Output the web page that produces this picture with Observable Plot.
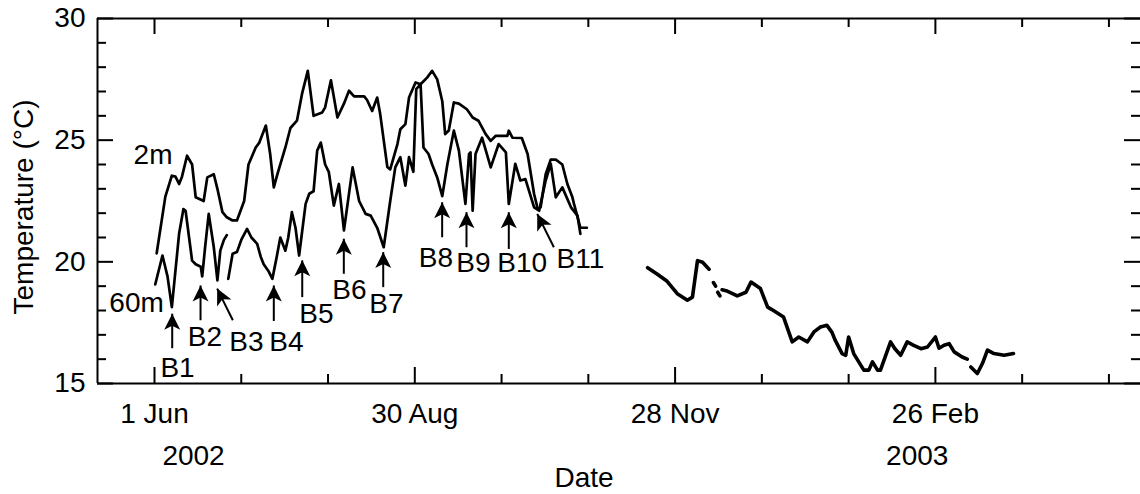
<!DOCTYPE html>
<html>
<head>
<meta charset="utf-8">
<script src="https://cdn.jsdelivr.net/npm/d3@7"></script>
<script src="https://cdn.jsdelivr.net/npm/@observablehq/plot@0.6"></script>
<style>
  html, body { margin: 0; padding: 0; background: #fff; }
  #chart svg { display: block; }
</style>
</head>
<body>
<div id="chart"></div>
<script>
// ---------- data ----------
const dates2m = ["2002-06-01 18","2002-06-04 18","2002-06-07 00","2002-06-08 06","2002-06-09 12","2002-06-10 12","2002-06-12 06","2002-06-14 00","2002-06-15 06","2002-06-18 00","2002-06-19 06","2002-06-21 12","2002-06-22 18","2002-06-24 12","2002-06-26 00","2002-06-28 00","2002-06-29 12","2002-07-02 00","2002-07-03 12","2002-07-06 00","2002-07-07 06","2002-07-09 12","2002-07-11 00","2002-07-12 06","2002-07-13 12","2002-07-16 06","2002-07-18 00","2002-07-20 06","2002-07-22 00","2002-07-24 00","2002-07-26 00","2002-07-29 00","2002-07-30 00","2002-08-01 00","2002-08-03 06","2002-08-05 12","2002-08-07 06","2002-08-09 00","2002-08-12 12","2002-08-13 12","2002-08-15 06","2002-08-17 00","2002-08-18 00","2002-08-20 12","2002-08-21 12","2002-08-24 00","2002-08-25 00","2002-08-26 18","2002-08-28 00","2002-08-30 06","2002-09-01 00","2002-09-03 06","2002-09-05 00","2002-09-06 18","2002-09-08 12","2002-09-09 12","2002-09-10 18","2002-09-12 12","2002-09-14 06","2002-09-17 00","2002-09-19 00","2002-09-21 00","2002-09-23 12","2002-09-25 06","2002-09-27 00","2002-10-01 00","2002-10-01 12","2002-10-02 18","2002-10-06 00","2002-10-08 00","2002-10-10 06","2002-10-11 12","2002-10-12 12","2002-10-14 06","2002-10-16 00","2002-10-17 18","2002-10-20 00","2002-10-21 18","2002-10-23 12","2002-10-24 00","2002-10-26 06","2002-10-28 12"];
const temps2m = [20.35,22.68,23.54,23.5,23.2,23.5,24.36,24.0,22.65,22.5,23.47,23.6,23.0,22.04,21.83,21.7,21.7,22.5,24.0,24.7,24.9,25.6,24.43,23.06,23.6,24.7,25.5,25.8,26.9,27.85,26.0,26.14,26.35,27.46,25.93,26.5,27.03,26.8,26.8,26.65,26.2,26.75,26.1,23.9,23.8,24.84,25.45,25.66,26.75,27.37,27.3,27.57,27.85,27.5,26.6,25.25,25.4,26.55,26.5,26.27,25.93,25.8,25.25,24.97,25.18,25.18,25.39,25.1,25.09,24.43,22.79,22.17,22.24,23.6,24.2,24.2,24.0,23.2,22.65,22.4,21.4,21.4];

const dates60m = ["2002-06-01 06","2002-06-03 18","2002-06-05 12","2002-06-07 00","2002-06-09 12","2002-06-11 00","2002-06-11 18","2002-06-14 00","2002-06-15 06","2002-06-17 00","2002-06-17 12","2002-06-18 12","2002-06-19 18","2002-06-21 12","2002-06-22 18","2002-06-23 18","2002-06-25 00","2002-06-26 00","2002-06-26 06","2002-06-26 12","2002-06-28 00","2002-06-29 12","2002-07-01 00","2002-07-03 00","2002-07-04 12","2002-07-06 12","2002-07-07 18","2002-07-08 18","2002-07-10 12","2002-07-11 18","2002-07-13 06","2002-07-14 12","2002-07-16 06","2002-07-17 06","2002-07-18 12","2002-07-19 18","2002-07-21 00","2002-07-23 06","2002-07-24 12","2002-07-26 00","2002-07-27 06","2002-07-28 12","2002-07-30 00","2002-07-31 06","2002-08-02 00","2002-08-03 18","2002-08-05 12","2002-08-08 12","2002-08-10 18","2002-08-13 00","2002-08-14 18","2002-08-17 00","2002-08-19 06","2002-08-21 12","2002-08-23 06","2002-08-25 00","2002-08-26 18","2002-08-28 00","2002-08-29 12","2002-08-30 12","2002-09-01 00","2002-09-02 00","2002-09-03 18","2002-09-05 00","2002-09-06 18","2002-09-08 12","2002-09-10 06","2002-09-12 12","2002-09-14 06","2002-09-16 12","2002-09-17 18","2002-09-18 06","2002-09-19 00","2002-09-20 00","2002-09-22 06","2002-09-23 12","2002-09-25 06","2002-09-28 00","2002-09-30 12","2002-10-01 12","2002-10-03 18","2002-10-05 12","2002-10-07 06","2002-10-10 06","2002-10-12 00","2002-10-14 06","2002-10-16 00","2002-10-17 18","2002-10-20 00","2002-10-23 00","2002-10-25 06","2002-10-26 06"];
const temps60m = [19.07,20.26,19.4,18.14,21.15,22.17,22.1,20.05,19.9,19.8,19.4,20.6,21.97,20.6,19.24,20.46,20.9,21.1,null,19.3,20.33,20.4,20.9,21.35,21.0,20.74,20.2,19.9,19.6,19.3,20.2,21.0,20.46,21.0,22.04,21.4,20.26,22.38,22.8,22.9,24.57,24.9,24.0,23.7,22.31,23.2,21.29,23.88,22.5,21.97,21.9,21.4,20.6,22.5,23.88,24.3,23.13,24.3,23.7,27.1,27.3,24.7,24.43,24.0,23.47,22.7,24.0,25.39,24.57,22.38,24.43,24.5,22.1,24.43,25.1,24.6,23.88,24.84,24.5,22.38,24.03,23.34,23.4,22.24,22.1,23.34,24.03,22.65,23.06,22.24,21.9,21.15];

const datesWinter = ["2002-11-18 12","2002-11-21 18","2002-11-25 06","2002-11-28 18","2002-12-02 06","2002-12-04 00","2002-12-05 18","2002-12-07 12","2002-12-09 18","2002-12-10 12","2002-12-11 06","2002-12-12 00","2002-12-12 12","2002-12-12 18","2002-12-13 12","2002-12-13 18","2002-12-14 06","2002-12-16 00","2002-12-19 12","2002-12-22 12","2002-12-24 06","2002-12-27 12","2002-12-30 00","2003-01-01 00","2003-01-04 12","2003-01-07 12","2003-01-09 18","2003-01-12 18","2003-01-15 00","2003-01-17 06","2003-01-19 12","2003-01-21 06","2003-01-22 06","2003-01-24 18","2003-01-26 00","2003-01-27 00","2003-01-28 18","2003-02-01 06","2003-02-03 00","2003-02-04 06","2003-02-06 00","2003-02-07 00","2003-02-10 12","2003-02-12 00","2003-02-14 00","2003-02-16 06","2003-02-18 12","2003-02-21 00","2003-02-23 06","2003-02-26 00","2003-02-27 06","2003-03-01 00","2003-03-02 18","2003-03-04 12","2003-03-07 06","2003-03-09 00","2003-03-09 12","2003-03-10 06","2003-03-12 12","2003-03-14 06","2003-03-16 00","2003-03-18 06","2003-03-21 18","2003-03-25 00"];
const tempsWinter = [19.76,19.5,19.2,18.69,18.42,18.55,20.05,19.98,19.7,null,19.15,19.0,null,18.75,18.6,null,18.85,18.8,18.6,18.75,19.17,18.9,18.14,18.0,17.73,16.71,16.91,16.71,17.12,17.32,17.39,17.1,16.8,16.23,16.16,16.91,16.23,15.55,15.55,15.89,15.55,15.55,16.71,16.43,16.16,16.71,16.57,16.43,16.5,16.91,16.45,16.57,16.64,16.3,16.09,16.0,null,15.68,15.41,15.82,16.37,16.23,16.16,16.23];

// event markers B1..B11
const eventLabels = ["B1","B2","B3","B4","B5","B6","B7","B8","B9","B10","B11"];
const eventTailDates = ["2002-06-07 03","2002-06-16 22","2002-06-28 02","2002-07-12 06","2002-07-22 02","2002-08-05 11","2002-08-19 02","2002-09-08 11","2002-09-16 21","2002-10-01 12","2002-10-17 02"];
const eventTailTemps = [16.45,17.6,17.6,17.57,18.55,19.51,18.96,21.01,20.6,20.53,20.6];
const eventTipDates  = ["2002-06-07 03","2002-06-16 22","2002-06-22 16","2002-07-12 06","2002-07-22 02","2002-08-05 11","2002-08-19 02","2002-09-08 11","2002-09-16 21","2002-10-01 12","2002-10-11 08"];
const eventTipTemps  = [17.87,19.03,18.9,19.03,20.06,20.95,20.4,22.45,22.04,22.04,21.97];
const eventTextDates = ["2002-06-08 23","2002-06-18 11","2002-07-02 19","2002-07-16 15","2002-07-27 00","2002-08-07 10","2002-08-20 05","2002-09-06 07","2002-09-19 07","2002-10-06 03","2002-10-26 07"];
const eventTextTemps = [15.65,16.9,16.7,16.7,17.84,18.83,18.25,20.16,19.95,19.95,20.1];

// series labels
const seriesNames = ["2m","60m"];
const seriesLabelDates = ["2002-05-31 12","2002-05-25 19"];
const seriesLabelTemps = [24.37,18.31];

// axes
const xDomain = ["2002-05-12 07","2003-05-07 22"];
const yDomain = [15, 30];
const xMajorTicks = ["2002-06-01 00","2002-08-30 00","2002-11-28 00","2003-02-26 00"];
const xMajorTickLabels = ["1 Jun","30 Aug","28 Nov","26 Feb"];
const xMinorTicks = ["2002-07-01 00","2002-07-31 00","2002-09-29 00","2002-10-29 00","2002-12-28 00","2003-01-27 00","2003-03-28 00","2003-04-27 00"];
const yMajorTicks = [15,20,25,30];
const yMinorTicks = [16,17,18,19,21,22,23,24,26,27,28,29];
const yearLabels = ["2002","2003"];
const yearLabelDates = ["2002-06-14 12","2003-02-19 17"];
const xTitle = "Date";
const yTitle = "Temperature (°C)";

// ---------- build ----------
const parse = d3.utcParse("%Y-%m-%d %H");
const toRows = (ds, ts) => ds.map((d, i) => ({date: parse(d), t: ts[i] == null ? NaN : ts[i]}));
const rows2m = toRows(dates2m, temps2m);
const rows60m = toRows(dates60m, temps60m);
const rowsWinter = toRows(datesWinter, tempsWinter);
const events = eventLabels.map((l, i) => ({
  label: l,
  x1: parse(eventTailDates[i]), y1: eventTailTemps[i],
  x2: parse(eventTipDates[i]), y2: eventTipTemps[i],
  tx: parse(eventTextDates[i]), ty: eventTextTemps[i]
}));
const seriesLabels = seriesNames.map((n, i) => ({name: n, x: parse(seriesLabelDates[i]), y: seriesLabelTemps[i]}));
const majX = xMajorTicks.map(parse);
const minX = xMinorTicks.map(parse);
const years = yearLabels.map((y, i) => ({text: y, x: parse(yearLabelDates[i])}));

const W = 1140, H = 494, mL = 97, mR = 0, mT = 18, mB = 111;
const fw = W - mL - mR, fh = H - mT - mB;
const FS = 28;
const font = "'Liberation Sans', Arial, Helvetica, sans-serif";

const headSymbol = {
  draw(ctx) {
    ctx.moveTo(0, 0);
    ctx.lineTo(8, 16);
    ctx.lineTo(0, 12);
    ctx.lineTo(-8, 16);
    ctx.closePath();
  }
};

function build(angles) {
  return Plot.plot({
    width: W, height: H,
    marginLeft: mL, marginRight: mR, marginTop: mT, marginBottom: mB,
    style: {fontFamily: font, fontSize: FS + "px", color: "black", background: "white"},
    x: {type: "utc", domain: xDomain.map(parse), axis: null},
    y: {domain: yDomain, axis: null},
    marks: [
      // frame (left, top, bottom)
      Plot.ruleY(yDomain, {stroke: "black", strokeWidth: 2}),
      Plot.ruleX([parse(xDomain[0])], {stroke: "black", strokeWidth: 2}),
      // inward ticks, bottom & top
      Plot.ruleX(majX, {stroke: "black", strokeWidth: 2, insetTop: fh - 16}),
      Plot.ruleX(minX, {stroke: "black", strokeWidth: 2, insetTop: fh - 9}),
      Plot.ruleX(majX, {stroke: "black", strokeWidth: 2, insetBottom: fh - 16}),
      Plot.ruleX(minX, {stroke: "black", strokeWidth: 2, insetBottom: fh - 9}),
      // inward ticks, left & right
      Plot.ruleY(yMajorTicks, {stroke: "black", strokeWidth: 2, insetRight: fw - 16}),
      Plot.ruleY(yMinorTicks, {stroke: "black", strokeWidth: 2, insetRight: fw - 9}),
      Plot.ruleY(yMajorTicks, {stroke: "black", strokeWidth: 2, insetLeft: fw - 16}),
      Plot.ruleY(yMinorTicks, {stroke: "black", strokeWidth: 2, insetLeft: fw - 9}),
      // tick labels
      Plot.text(yMajorTicks, {y: d => d, text: d => String(d), frameAnchor: "left", textAnchor: "end", dx: -12, fontSize: FS, fill: "black"}),
      Plot.text(majX, {x: d => d, text: (d, i) => xMajorTickLabels[i], frameAnchor: "bottom", lineAnchor: "top", dy: 20, fontSize: FS, fill: "black"}),
      Plot.text(years, {x: "x", text: "text", frameAnchor: "bottom", lineAnchor: "top", dy: 62, fontSize: FS, fill: "black"}),
      Plot.text([xTitle], {text: d => d, frameAnchor: "bottom", lineAnchor: "top", dy: 84, dx: -35, fontSize: FS, fill: "black"}),
      Plot.text([yTitle], {text: d => d, frameAnchor: "left", textAnchor: "middle", lineAnchor: "middle", rotate: -90, dx: -73, dy: 6, fontSize: FS, fill: "black"}),
      // data
      Plot.line(rows2m, {x: "date", y: "t", stroke: "black", strokeWidth: 2.7, strokeLinejoin: "round"}),
      Plot.line(rows60m, {x: "date", y: "t", stroke: "black", strokeWidth: 2.7, strokeLinejoin: "round"}),
      Plot.line(rowsWinter, {x: "date", y: "t", stroke: "black", strokeWidth: 3.6, strokeLinejoin: "round"}),
      // series labels
      Plot.text(seriesLabels, {x: "x", y: "y", text: "name", fontSize: FS, fill: "black"}),
      // event arrows
      Plot.link(events, {x1: "x1", y1: "y1", x2: "x2", y2: "y2", stroke: "black", strokeWidth: 2}),
      Plot.dot(events, {x: "x2", y: "y2", symbol: headSymbol, fill: "black", stroke: "none", rotate: (d, i) => angles[i]}),
      Plot.text(events, {x: "tx", y: "ty", text: "label", fontSize: FS, fill: "black"})
    ]
  });
}

const probe = build(events.map(() => 0));
const sx = probe.scale("x"), sy = probe.scale("y");
const fx = d3.scaleUtc(sx.domain, sx.range);
const fy = d3.scaleLinear(sy.domain, sy.range);
const angles = events.map(e => {
  const dx = fx(e.x2) - fx(e.x1), dy = fy(e.y2) - fy(e.y1);
  return Math.atan2(dx, -dy) * 180 / Math.PI;
});
document.getElementById("chart").append(build(angles));
</script>
</body>
</html>
